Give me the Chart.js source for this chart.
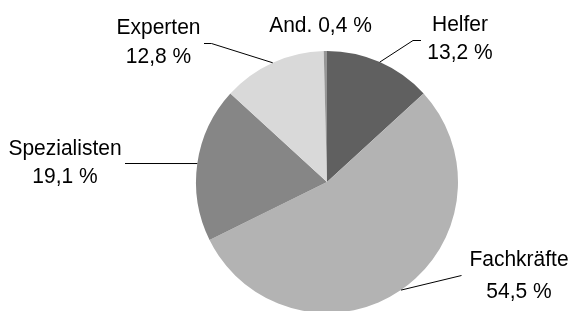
<!DOCTYPE html>
<html>
<head>
<meta charset="utf-8">
<script src="https://cdn.jsdelivr.net/npm/chart.js@4/dist/chart.umd.min.js"></script>
<style>
    html, body { margin: 0; padding: 0; background: #fff; overflow: hidden; }
    #wrap { width: 572px; height: 311px; overflow: hidden; }
</style>
</head>
<body>
<div id="wrap"><canvas id="chartAnteile" width="572" height="313"></canvas></div>
<script>
const categories = ['Helfer', 'Fachkräfte', 'Spezialisten', 'Experten', 'And.'];
const shares = [13.2, 54.5, 19.1, 12.8, 0.4];
const sliceColors = ['#606060', '#b3b3b3', '#868686', '#d9d9d9', '#969696'];

// Beschriftungen: Knickpunkte der Linien und Textzeilen (Mitte x, Grundlinien y)
const labelLayout = [
    { line: [[413, 40.5], [421, 40.5]], x: 460, y: [31, 59.3] },
    { line: [[461.5, 275.5]], x: 519, y: [266, 298.3] },
    { line: [[125, 163.5]], x: 65, y: [155, 183.3] },
    { line: [[211.5, 43.5], [204, 43.5]], x: 158.5, y: [34.3, 63.3] },
    { line: [], x: 320.5, y: [31.7], single: true }
];

const formatShare = (v) => v.toFixed(1).replace('.', ',') + ' %';

const labelPlugin = {
    id: 'leaderLabels',
    afterDraw(chart) {
        const ctx = chart.ctx;
        const meta = chart.getDatasetMeta(0);
        ctx.save();
        ctx.strokeStyle = '#000';
        ctx.lineWidth = 1;
        ctx.fillStyle = '#000';
        ctx.font = '21px "Liberation Sans", Arial, sans-serif';
        ctx.textAlign = 'center';
        ctx.textBaseline = 'alphabetic';

        meta.data.forEach((arc, i) => {
            const layout = labelLayout[i];
            const { x, y, startAngle, endAngle, outerRadius } = arc.getProps(['x', 'y', 'startAngle', 'endAngle', 'outerRadius'], true);
            const mid = (startAngle + endAngle) / 2;

            if (layout.line.length) {
                ctx.beginPath();
                ctx.moveTo(x + Math.cos(mid) * outerRadius, y + Math.sin(mid) * outerRadius);
                layout.line.forEach(([px, py]) => ctx.lineTo(px, py));
                ctx.stroke();
            }

            const lines = layout.single
                ? [categories[i] + ' ' + formatShare(shares[i])]
                : [categories[i], formatShare(shares[i])];

            lines.forEach((text, k) => {
                ctx.save();
                ctx.translate(layout.x, layout.y[k]);
                ctx.scale(1, 1.07);
                ctx.fillText(text, 0, 0);
                ctx.restore();
            });
        });
        ctx.restore();
    }
};

const buildChart = () => {
    const canvas = document.getElementById('chartAnteile');
    if (!canvas || typeof Chart === 'undefined') return;

    new Chart(canvas.getContext('2d'), {
        type: 'pie',
        data: {
            labels: categories,
            datasets: [{
                data: shares,
                backgroundColor: sliceColors,
                borderWidth: 0
            }]
        },
        options: {
            responsive: false,
            animation: false,
            devicePixelRatio: 1,
            layout: {
                padding: { top: 51, bottom: 0, left: 196, right: 114 }
            },
            plugins: {
                legend: { display: false },
                tooltip: { enabled: false }
            }
        },
        plugins: [labelPlugin]
    });
};

document.addEventListener('DOMContentLoaded', buildChart);
</script>
</body>
</html>
